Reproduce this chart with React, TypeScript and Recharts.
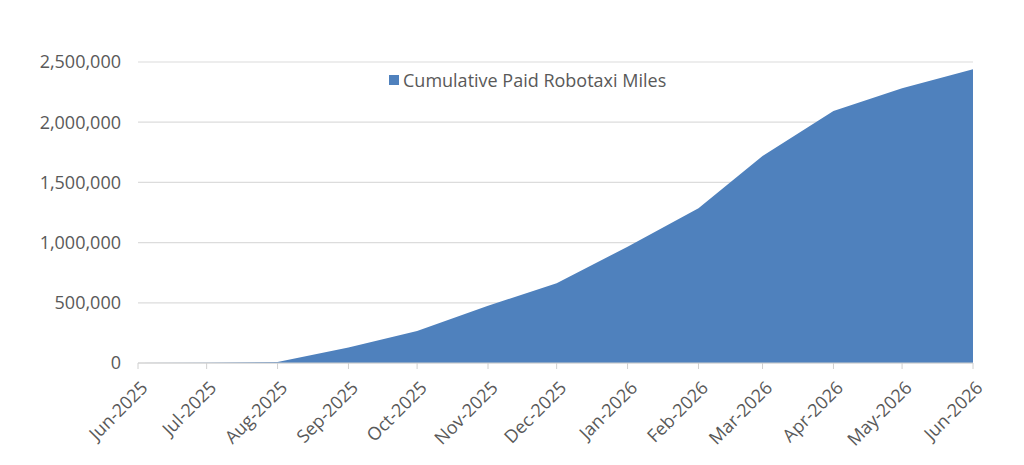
import React from 'react';
import { AreaChart, Area, XAxis, YAxis, CartesianGrid } from 'recharts';

// months of the series (first day of each month)
const months = [
  '2025-06', '2025-07', '2025-08', '2025-09', '2025-10', '2025-11', '2025-12',
  '2026-01', '2026-02', '2026-03', '2026-04', '2026-05', '2026-06',
];

const cumulativeMiles = [
  0, 2000, 8000, 128000, 266000, 475000, 662000,
  966000, 1285000, 1719000, 2093000, 2282000, 2439000,
];

const yTicks = [0, 500000, 1000000, 1500000, 2000000, 2500000];

const monthNames = ['Jan', 'Feb', 'Mar', 'Apr', 'May', 'Jun', 'Jul', 'Aug', 'Sep', 'Oct', 'Nov', 'Dec'];

const toTime = (m: string) => {
  const [y, mo] = m.split('-').map(Number);
  return Date.UTC(y, mo - 1, 1);
};

const data = months.map((m, i) => ({ t: toTime(m), miles: cumulativeMiles[i] }));
const xTicks = data.map((d) => d.t);

const fmtMonth = (t: number) => {
  const d = new Date(t);
  return `${monthNames[d.getUTCMonth()]}-${d.getUTCFullYear()}`;
};

const FONT = '"Open Sans", sans-serif';
const TEXT = '#595959';

const XTick = (props: any) => {
  const { x, y, payload } = props;
  return (
    <g transform={`translate(${x + 1},${y + 8})`}>
      <text
        x={0}
        y={0}
        dy={14}
        textAnchor="end"
        transform="rotate(-45)"
        fill={TEXT}
        fontSize={18}
        fontFamily={FONT}
      >
        {fmtMonth(payload.value)}
      </text>
    </g>
  );
};

const LegendBox = () => (
  <div
    style={{
      position: 'absolute',
      left: 389,
      top: 68,
      display: 'flex',
      alignItems: 'center',
      fontFamily: FONT,
      fontSize: 18,
      color: TEXT,
    }}
  >
    <span style={{ width: 10, height: 10, background: '#4f81bd', marginRight: 4, display: 'inline-block' }} />
    Cumulative Paid Robotaxi Miles
  </div>
);

export default function App() {
  return (
    <div style={{ position: 'absolute', left: 0, top: 0, width: 1024, height: 465, background: '#fff' }}>
      <AreaChart
        width={1024}
        height={465}
        data={data}
        margin={{ top: 62, right: 51, bottom: 0, left: 0 }}
      >
        <CartesianGrid vertical={false} stroke="#dcdcdc" strokeWidth={1.2} />
        <XAxis
          dataKey="t"
          type="number"
          scale="time"
          domain={[xTicks[0], xTicks[xTicks.length - 1]]}
          ticks={xTicks}
          tick={<XTick />}
          height={102}
          interval={0}
          stroke="#d0d0d0"
          tickSize={6}
          tickMargin={2}
        />
        <YAxis
          domain={[0, 2500000]}
          ticks={yTicks}
          width={138}
          axisLine={false}
          tickLine={false}
          tickSize={0}
          tickMargin={17}
          tickFormatter={(v: number) => v.toLocaleString('en-US')}
          tick={{ fill: TEXT, fontSize: 18, fontFamily: FONT }}
        />
        <Area
          type="linear"
          dataKey="miles"
          stroke="none"
          fill="#4f81bd"
          fillOpacity={1}
          isAnimationActive={false}
        />
      </AreaChart>
      <LegendBox />
    </div>
  );
}
